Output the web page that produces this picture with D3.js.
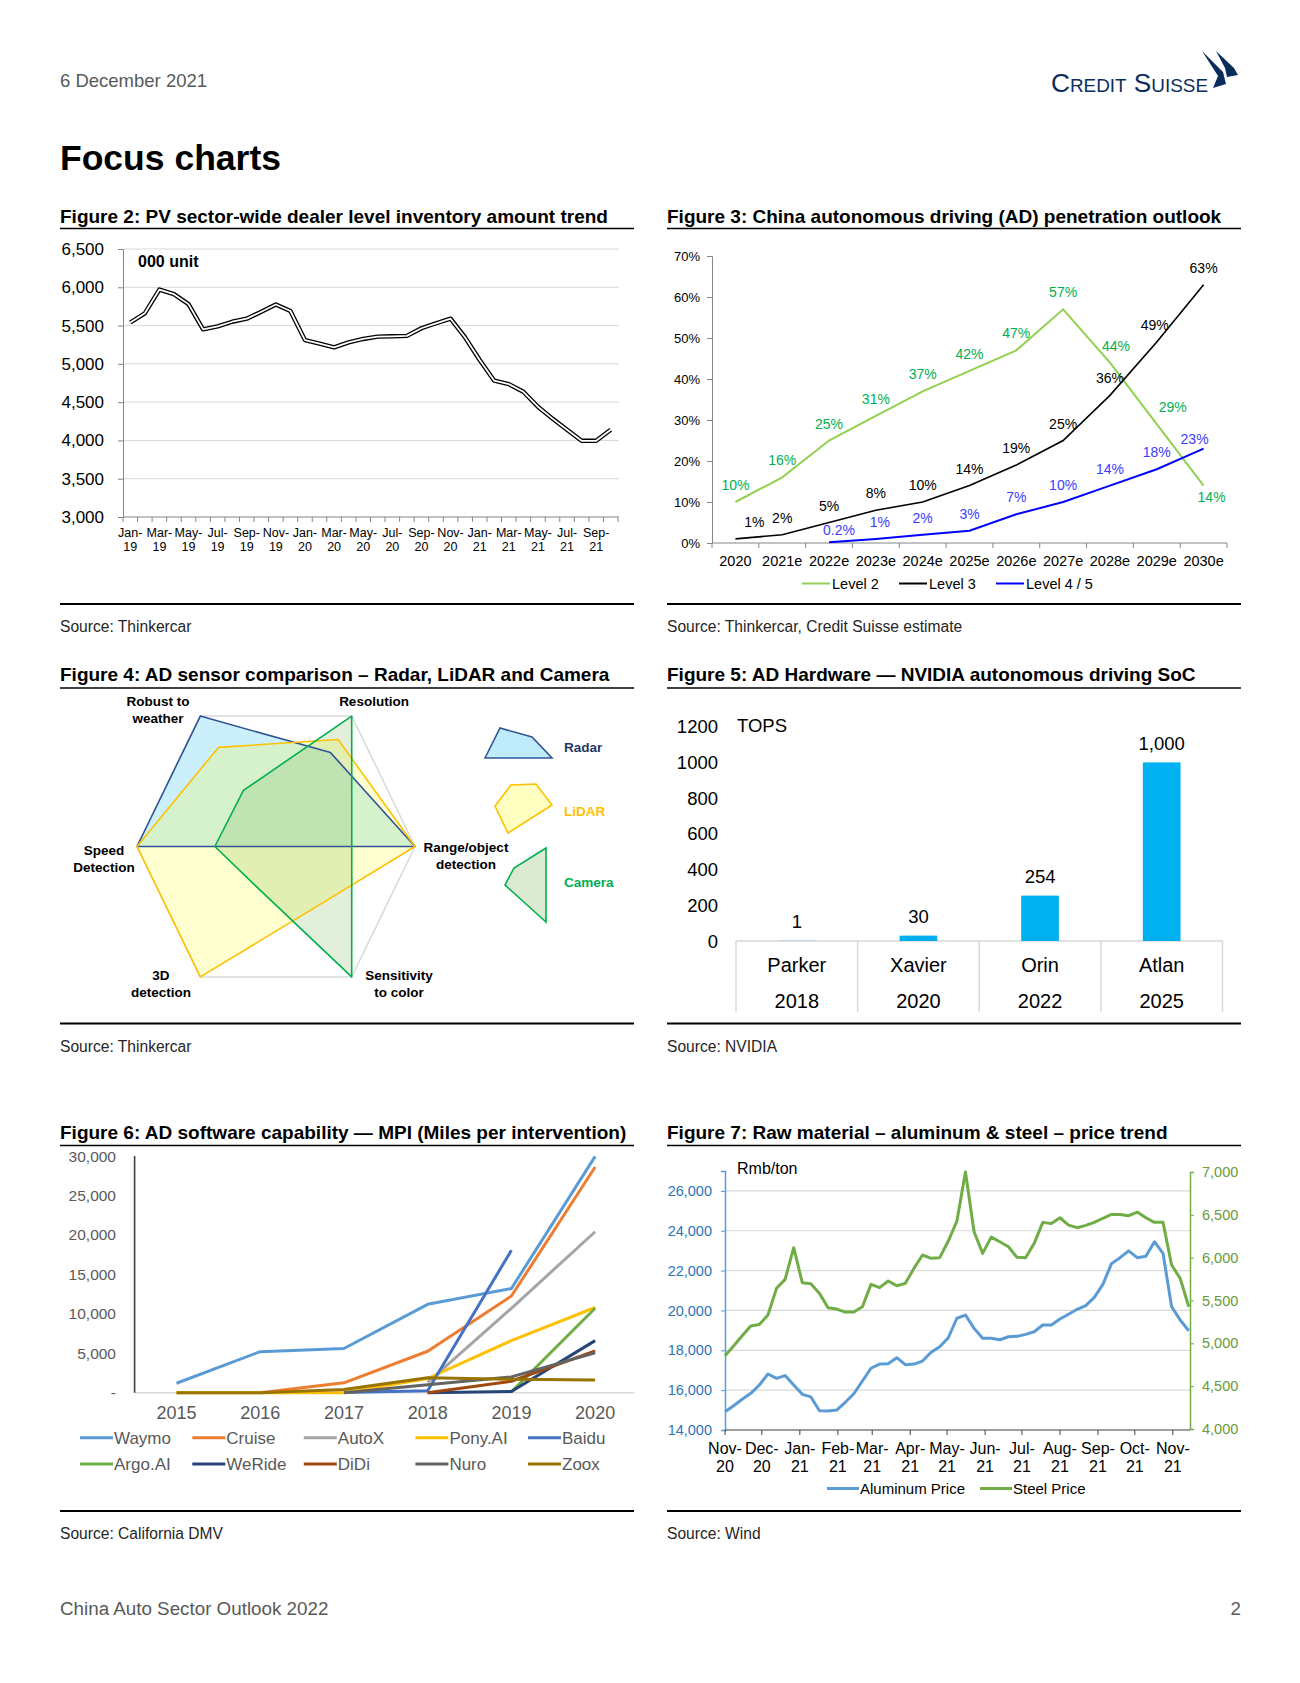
<!DOCTYPE html>
<html>
<head>
<meta charset="utf-8">
<script src="https://cdn.jsdelivr.net/npm/d3@7"></script>
<style>
  body { margin: 0; background: #fff; }
  text { font-family: "Liberation Sans", Arial, Helvetica, sans-serif; }
</style>
</head>
<body>
<svg id="page"></svg>
<script>
// ---------- data ----------
// Figure 2: dealer inventory ('000 units), Jan-19 .. Oct-21
var invMonths = ["Jan-19","Feb-19","Mar-19","Apr-19","May-19","Jun-19","Jul-19","Aug-19","Sep-19","Oct-19","Nov-19","Dec-19",
                 "Jan-20","Feb-20","Mar-20","Apr-20","May-20","Jun-20","Jul-20","Aug-20","Sep-20","Oct-20","Nov-20","Dec-20",
                 "Jan-21","Feb-21","Mar-21","Apr-21","May-21","Jun-21","Jul-21","Aug-21","Sep-21","Oct-21"];
var invValues = [5540,5660,5970,5910,5780,5450,5490,5550,5590,5680,5775,5690,
                 5310,5265,5215,5280,5325,5355,5360,5365,5465,5530,5590,5345,
                 5050,4780,4735,4635,4440,4285,4140,3995,3995,4140];

// Figure 3: AD penetration (%)
var adYears = ["2020","2021e","2022e","2023e","2024e","2025e","2026e","2027e","2028e","2029e","2030e"];
var level2 = [10,16,25,31,37,42,47,57,44,29,14];
var level3 = [1,2,5,8,10,14,19,25,36,49,63];
var level45 = [null,null,0.2,1,2,3,7,10,14,18,23];

// Figure 4: sensor scores (0-10) on six axes
var sensorAxes = ["Range/object detection","Resolution","Robust to weather","Speed Detection","3D detection","Sensitivity to color"];
var radarScores  = [10, 7.2, 10, 10, 0, 0];
var lidarScores  = [10, 8.2, 7.6, 10, 10, 4.8];
var cameraScores = [5.45, 10, 4.3, 4.4, 2.9, 10];

// Figure 5: NVIDIA SoC compute (TOPS)
var socNames = ["Parker","Xavier","Orin","Atlan"];
var socYears = ["2018","2020","2022","2025"];
var socTops = [1, 30, 254, 1000];

// Figure 6: miles per intervention
var mpiYears = ["2015","2016","2017","2018","2019","2020"];
var mpiNames = ["Waymo","Cruise","AutoX","Pony.AI","Baidu","Argo.AI","WeRide","DiDi","Nuro","Zoox"];
var mpiWaymo  = [1200, 5200, 5600, 11200, 13200, 29950];
var mpiCruise = [null, 0, 1250, 5250, 12250, 28600];
var mpiAutoX  = [null, null, null, 1300, 10700, 20400];
var mpiPony   = [0, 0, 0, 1800, 6600, 10800];
var mpiBaidu  = [null, null, 40, 250, 18050, null];
var mpiArgo   = [null, null, null, null, 100, 10700];
var mpiWeRide = [null, null, null, 0, 150, 6600];
var mpiDiDi   = [null, null, null, 0, 1450, 5300];
var mpiNuro   = [null, null, 0, 1000, 2000, 5050];
var mpiZoox   = [0, 0, 400, 1900, 1700, 1600];

// Figure 7: weekly prices (Rmb/ton), first week of Nov-20 onwards
var priceStart = new Date(2020, 10, 1);
var aluminumPrice = [14920,15220,15540,15840,16260,16810,16590,16730,16260,15790,
                     15660,14970,14950,15000,15390,15820,16460,17100,17310,17330,
                     17630,17280,17310,17460,17900,18180,18630,19610,19770,19100,
                     18600,18600,18530,18680,18700,18800,18930,19270,19270,19570,
                     19810,20060,20240,20660,21310,22350,22650,22990,22650,22720,
                     23450,22870,20190,19520,18980];
var steelPrice = [4855,4969,5089,5202,5220,5330,5642,5747,6116,5707,
                  5695,5583,5416,5400,5365,5365,5427,5688,5650,5727,
                  5672,5700,5875,6031,5992,6000,6194,6427,7000,6302,
                  6050,6240,6186,6128,6004,6000,6167,6412,6400,6466,
                  6380,6350,6377,6412,6460,6505,6505,6490,6532,6466,
                  6412,6412,5914,5758,5427];

// ---------- page ----------
var svg = d3.select("#page").attr("width", 1300).attr("height", 1683);

function label(g, x, y, s, size, opts) {
  opts = opts || {};
  return g.append("text")
    .attr("x", x).attr("y", y)
    .attr("text-anchor", opts.anchor || "start")
    .attr("fill", opts.color || "#000")
    .attr("font-weight", opts.weight || "normal")
    .style("font-size", size + "px")
    .text(s);
}

function rule(x0, x1, y, w) {
  svg.append("line").attr("x1", x0).attr("x2", x1).attr("y1", y).attr("y2", y)
    .attr("stroke", "#000").attr("stroke-width", w);
}

var colL = [60, 634], colR = [667, 1241];

// header
label(svg, 60, 87, "6 December 2021", 18.5, {color: "#595959"});
svg.append("text").attr("x", 1051).attr("y", 91.5).attr("fill", "#0b2d5e")
  .style("font-size", "25px").style("font-variant", "small-caps")
  .attr("textLength", 157).attr("lengthAdjust", "spacingAndGlyphs")
  .text("Credit Suisse");
svg.append("path").attr("fill", "#0b2d5e")
  .attr("d", "M1202,51 L1223,72 L1226,84 L1213,88 L1218,76 Z");
svg.append("path").attr("fill", "#0b2d5e")
  .attr("d", "M1216,51 L1234,68 L1238,75 L1227,77 L1225,68 Z");

label(svg, 60, 170, "Focus charts", 35.5, {weight: "bold"});

// figure frames
function frame(col, titleY, topRule, bottomRule, sourceY, title, source) {
  label(svg, col[0], titleY, title, 19, {weight: "bold"});
  rule(col[0], col[1], topRule, 1.6);
  rule(col[0], col[1], bottomRule, 2);
  label(svg, col[0], sourceY, source, 15.6, {color: "#262626"});
}
frame(colL, 223, 228.5, 604, 632, "Figure 2: PV sector-wide dealer level inventory amount trend", "Source: Thinkercar");
frame(colR, 223, 228.5, 604, 632, "Figure 3: China autonomous driving (AD) penetration outlook", "Source: Thinkercar, Credit Suisse estimate");
frame(colL, 681, 688, 1023.5, 1052, "Figure 4: AD sensor comparison \u2013 Radar, LiDAR and Camera", "Source: Thinkercar");
frame(colR, 681, 688, 1023.5, 1052, "Figure 5: AD Hardware \u2014 NVIDIA autonomous driving SoC", "Source: NVIDIA");
frame(colL, 1139, 1145.5, 1511, 1539, "Figure 6: AD software capability \u2014 MPI (Miles per intervention)", "Source: California DMV");
frame(colR, 1139, 1145.5, 1511, 1539, "Figure 7: Raw material \u2013 aluminum & steel \u2013 price trend", "Source: Wind");

label(svg, 60, 1615, "China Auto Sector Outlook 2022", 18.8, {color: "#595959"});
label(svg, 1241, 1615, "2", 18.8, {color: "#595959", anchor: "end"});

// ---------- Figure 2 ----------
(function () {
  var g = svg.append("g");
  var x = d3.scaleBand().domain(invMonths).range([123, 618]);
  var y = d3.scaleLinear().domain([3000, 6500]).range([517, 249]);
  var ticks = d3.range(3000, 6501, 500);

  g.selectAll(".grid").data(ticks.slice(1)).enter().append("line")
    .attr("x1", 123).attr("x2", 619)
    .attr("y1", d => y(d)).attr("y2", d => y(d))
    .attr("stroke", "#d9d9d9");

  var ya = g.append("g").attr("transform", "translate(123,0)")
    .call(d3.axisLeft(y).tickValues(ticks).tickSize(5).tickFormat(d3.format(",")));
  ya.select(".domain").attr("stroke", "#868686");
  ya.selectAll(".tick line").attr("stroke", "#868686");
  ya.selectAll("text").style("font-size", "17px").attr("fill", "#000")
    .attr("font-family", null).attr("x", -19);

  // category axis with ticks at month boundaries
  g.append("line").attr("x1", 123).attr("x2", 619).attr("y1", y(3000)).attr("y2", y(3000))
    .attr("stroke", "#868686");
  g.selectAll(".mt").data(d3.range(invMonths.length + 1)).enter().append("line")
    .attr("x1", i => x.range()[0] + i * x.step()).attr("x2", i => x.range()[0] + i * x.step())
    .attr("y1", y(3000)).attr("y2", y(3000) + 5).attr("stroke", "#868686");
  var lab = g.selectAll(".ml").data(invMonths.filter((m, i) => i % 2 === 0)).enter().append("text")
    .attr("text-anchor", "middle").style("font-size", "12.5px");
  lab.append("tspan").attr("x", d => x(d) + x.bandwidth() / 2).attr("y", 537).text(d => d.split("-")[0] + "-");
  lab.append("tspan").attr("x", d => x(d) + x.bandwidth() / 2).attr("y", 551).text(d => d.split("-")[1]);

  var line = d3.line().x((d, i) => x(invMonths[i]) + x.bandwidth() / 2).y(d => y(d));
  g.append("path").datum(invValues).attr("d", line).attr("fill", "none")
    .attr("stroke", "#000").attr("stroke-width", 4.4).attr("stroke-linejoin", "round");
  g.append("path").datum(invValues).attr("d", line).attr("fill", "none")
    .attr("stroke", "#fff").attr("stroke-width", 1.8).attr("stroke-linejoin", "round");

  label(g, 138, 267, "000 unit", 16, {weight: "bold"});
})();

// ---------- Figure 3 ----------
(function () {
  var g = svg.append("g");
  var x = d3.scaleBand().domain(adYears).range([712, 1227]);
  var y = d3.scaleLinear().domain([0, 70]).range([543, 256]);
  var cx = d => x(d) + x.bandwidth() / 2;

  var ya = g.append("g").attr("transform", "translate(712,0)")
    .call(d3.axisLeft(y).tickValues(d3.range(0, 71, 10)).tickSize(5).tickFormat(d => d + "%"));
  ya.select(".domain").attr("stroke", "#868686");
  ya.selectAll(".tick line").attr("stroke", "#868686");
  ya.selectAll("text").style("font-size", "13px").attr("fill", "#000").attr("font-family", null).attr("x", -12);

  g.append("line").attr("x1", 712).attr("x2", 1227).attr("y1", y(0)).attr("y2", y(0)).attr("stroke", "#868686");
  g.selectAll(".bt").data(d3.range(adYears.length + 1)).enter().append("line")
    .attr("x1", i => 712 + i * x.step()).attr("x2", i => 712 + i * x.step())
    .attr("y1", y(0)).attr("y2", y(0) + 5).attr("stroke", "#868686");
  g.selectAll(".xl").data(adYears).enter().append("text")
    .attr("x", cx).attr("y", 566).attr("text-anchor", "middle").style("font-size", "14.5px").text(d => d);

  var series = [
    {values: level2, stroke: "#92d050", text: "#00b050", w: 2,
     nudge: {8: [6, 0], 9: [16, 0], 10: [8, 28]}},
    {values: level3, stroke: "#000", text: "#000", w: 1.6,
     nudge: {0: [19, 0], 9: [-2, 0]}},
    {values: level45, stroke: "#0000ff", text: "#3c3cff", w: 2,
     nudge: {2: [10, 5], 3: [4, 0], 10: [-9, 7]}}
  ];
  var line = d3.line().defined(d => d != null).x((d, i) => cx(adYears[i])).y(d => y(d));
  series.forEach(function (s) {
    g.append("path").datum(s.values).attr("d", line).attr("fill", "none")
      .attr("stroke", s.stroke).attr("stroke-width", s.w);
  });
  series.forEach(function (s) {
    s.values.forEach(function (v, i) {
      if (v == null) return;
      var n = s.nudge[i] || [0, 0];
      label(g, cx(adYears[i]) + n[0], y(v) - 12 + n[1], (v < 1 ? v.toFixed(1) : v) + "%", 14,
        {anchor: "middle", color: s.text});
    });
  });

  var legend = [["Level 2", "#92d050", 802], ["Level 3", "#000", 899], ["Level 4  / 5", "#0000ff", 996]];
  legend.forEach(function (l) {
    g.append("line").attr("x1", l[2]).attr("x2", l[2] + 28).attr("y1", 583.5).attr("y2", 583.5)
      .attr("stroke", l[1]).attr("stroke-width", 2);
    label(g, l[2] + 30, 588.5, l[0], 14.5);
  });
})();

// ---------- Figure 4 ----------
(function () {
  var g = svg.append("g");
  var cx = 276, cy = 846.5, rx = 139, ry = 155.5;
  // axis directions as drawn in the source (slightly wider than a regular hexagon)
  var angles = [0, 57, 123, 180, 237, 303].map(a => a * Math.PI / 180);
  var r = d3.scaleLinear().domain([0, 10]).range([0, 1]);
  var pt = (v, i) => [cx + rx * r(v) * Math.cos(angles[i]), cy - ry * r(v) * Math.sin(angles[i])];
  var poly = vals => "M" + vals.map((v, i) => pt(v, i).join(",")).join("L") + "Z";

  g.append("path").attr("d", poly(sensorAxes.map(() => 10)))
    .attr("fill", "none").attr("stroke", "#d9d9d9").attr("stroke-width", 1.5);

  var sensors = [
    {name: "Radar", vals: radarScores, fill: "#00b0f0", op: 0.2, stroke: "#2f5597", text: "#1f3864"},
    {name: "LiDAR", vals: lidarScores, fill: "#ffff00", op: 0.19, stroke: "#ffc000", text: "#ffc000"},
    {name: "Camera", vals: cameraScores, fill: "#70ad47", op: 0.2, stroke: "#00b050", text: "#00b050"}
  ];
  sensors.forEach(function (s) {
    g.append("path").attr("d", poly(s.vals)).attr("fill", s.fill).attr("fill-opacity", s.op)
      .attr("stroke", "none");
  });
  sensors.forEach(function (s) {
    g.append("path").attr("d", poly(s.vals)).attr("fill", "none")
      .attr("stroke", s.stroke).attr("stroke-width", 1.6).attr("stroke-linejoin", "round");
  });

  var axisLabels = [
    [["Range/object", "detection"], 466, 852],
    [["Resolution"], 374, 706],
    [["Robust to", "weather"], 158, 706],
    [["Speed", "Detection"], 104, 855],
    [["3D", "detection"], 161, 980],
    [["Sensitivity", "to color"], 399, 980]
  ];
  axisLabels.forEach(function (a) {
    a[0].forEach(function (t, k) {
      label(g, a[1], a[2] + k * 16.5, t, 13.5, {anchor: "middle", weight: "bold"});
    });
  });

  // legend swatches
  var icons = [
    "M485,758 L500,728 L532,737 L552,758 Z",
    "M495,806 L511,785 L536,784 L552,805 L508,833 Z",
    "M546,848 L546,922 L505,885 L514,868 Z"
  ];
  var legY = [752, 816, 887];
  sensors.forEach(function (s, i) {
    g.append("path").attr("d", icons[i]).attr("fill", s.fill).attr("fill-opacity", s.op + 0.05)
      .attr("stroke", s.stroke).attr("stroke-width", 1.6);
    label(g, 564, legY[i], s.name, 13.5, {weight: "bold", color: s.text});
  });
})();

// ---------- Figure 5 ----------
(function () {
  var g = svg.append("g");
  var x = d3.scaleBand().domain(socNames).range([736, 1222.5]);
  var y = d3.scaleLinear().domain([0, 1200]).range([941, 726.7]);
  var bw = x.bandwidth() * 0.31;

  d3.range(0, 1201, 200).forEach(function (t) {
    label(g, 718, y(t) + 6.5, t, 18.5, {anchor: "end"});
  });
  label(g, 737, 731.5, "TOPS", 18.5);

  g.append("line").attr("x1", 736).attr("x2", 1222.5).attr("y1", y(0)).attr("y2", y(0))
    .attr("stroke", "#d9d9d9").attr("stroke-width", 1.5);
  g.selectAll(".sep").data(d3.range(socNames.length + 1)).enter().append("line")
    .attr("x1", i => 736 + i * x.step()).attr("x2", i => 736 + i * x.step())
    .attr("y1", y(0)).attr("y2", 1012).attr("stroke", "#d9d9d9").attr("stroke-width", 1.5);

  g.selectAll(".bar").data(socTops).enter().append("rect")
    .attr("x", (d, i) => x(socNames[i]) + (x.bandwidth() - bw) / 2)
    .attr("y", d => y(d)).attr("width", bw).attr("height", d => y(0) - y(d))
    .attr("fill", "#00b0f0");
  socTops.forEach(function (v, i) {
    var c = x(socNames[i]) + x.bandwidth() / 2;
    label(g, c, y(v) - 12.5, d3.format(",")(v), 18.5, {anchor: "middle"});
    label(g, c, 972, socNames[i], 20, {anchor: "middle"});
    label(g, c, 1008, socYears[i], 20, {anchor: "middle"});
  });
})();

// ---------- Figure 6 ----------
(function () {
  var g = svg.append("g");
  var x = d3.scaleBand().domain(mpiYears).range([134.6, 637]);
  var y = d3.scaleLinear().domain([0, 30000]).range([1392.7, 1156]);
  var cx = d => x(d) + x.bandwidth() / 2;
  var grey = "#595959";

  d3.range(0, 30001, 5000).forEach(function (t) {
    label(g, 116, y(t) + 5.5, t === 0 ? "-" : d3.format(",")(t), 15.5, {anchor: "end", color: grey});
  });
  g.append("line").attr("x1", 134.6).attr("x2", 634).attr("y1", y(0)).attr("y2", y(0))
    .attr("stroke", "#d9d9d9").attr("stroke-width", 1.5);
  g.append("line").attr("x1", 134.6).attr("x2", 134.6).attr("y1", y(30000)).attr("y2", y(0))
    .attr("stroke", "#404040").attr("stroke-width", 1.6);
  mpiYears.forEach(function (yr) {
    label(g, cx(yr), 1419, yr, 18, {anchor: "middle", color: grey});
  });

  var rows = [mpiWaymo, mpiCruise, mpiAutoX, mpiPony, mpiBaidu, mpiArgo, mpiWeRide, mpiDiDi, mpiNuro, mpiZoox];
  var colors = ["#5b9bd5","#ed7d31","#a5a5a5","#ffc000","#4472c4","#70ad47","#264478","#9e480e","#636363","#997300"];
  var line = d3.line().defined(d => d != null).x((d, i) => cx(mpiYears[i])).y(d => y(d));
  rows.forEach(function (vals, k) {
    g.append("path").datum(vals).attr("d", line).attr("fill", "none")
      .attr("stroke", colors[k]).attr("stroke-width", 3).attr("stroke-linejoin", "round");
  });

  var legX = [80, 192.3, 303.8, 415.4, 528];
  mpiNames.forEach(function (n, k) {
    var lx = legX[k % 5], ly = k < 5 ? 1437.7 : 1464;
    g.append("line").attr("x1", lx).attr("x2", lx + 33).attr("y1", ly).attr("y2", ly)
      .attr("stroke", colors[k]).attr("stroke-width", 3);
    label(g, lx + 34, ly + 6, n, 17, {color: grey});
  });
})();

// ---------- Figure 7 ----------
(function () {
  var g = svg.append("g");
  var dates = aluminumPrice.map((d, i) => d3.timeDay.offset(priceStart, 7 * i));
  var x = d3.scaleTime().domain([priceStart, new Date(2021, 10, 15)]).range([725, 1190]);
  var yL = d3.scaleLinear().domain([14000, 27000]).range([1430, 1171]);
  var yR = d3.scaleLinear().domain([4000, 7000]).range([1429, 1172]);
  var leftTicks = d3.range(14000, 26001, 2000);

  g.selectAll(".grid").data(leftTicks.slice(1)).enter().append("line")
    .attr("x1", 725).attr("x2", 1190).attr("y1", d => yL(d)).attr("y2", d => yL(d))
    .attr("stroke", "#d9d9d9").attr("stroke-width", 1.2);

  var la = g.append("g").attr("transform", "translate(725,0)")
    .call(d3.axisLeft(yL).tickValues(leftTicks).tickSize(4).tickFormat(d3.format(",")));
  la.select(".domain").attr("stroke", "#5b9bd5").attr("stroke-width", 1.5);
  la.selectAll(".tick line").attr("stroke", "#5b9bd5");
  la.selectAll("text").style("font-size", "14.5px").attr("fill", "#2e75b6").attr("font-family", null).attr("x", -13);

  var ra = g.append("g").attr("transform", "translate(1190,0)")
    .call(d3.axisRight(yR).tickValues(d3.range(4000, 7001, 500)).tickSize(4).tickFormat(d3.format(",")));
  ra.select(".domain").attr("stroke", "#70ad47").attr("stroke-width", 1.5);
  ra.selectAll(".tick line").attr("stroke", "#70ad47");
  ra.selectAll("text").style("font-size", "14.5px").attr("fill", "#6a9a3a").attr("font-family", null).attr("x", 12);

  var months = d3.timeMonth.range(new Date(2020, 10, 1), new Date(2021, 10, 2));
  g.append("line").attr("x1", 725).attr("x2", 1190).attr("y1", 1430).attr("y2", 1430)
    .attr("stroke", "#404040").attr("stroke-width", 1.2);
  g.selectAll(".mt").data(months).enter().append("line")
    .attr("x1", d => x(d)).attr("x2", d => x(d)).attr("y1", 1430).attr("y2", 1435)
    .attr("stroke", "#404040");
  var ml = g.selectAll(".ml").data(months).enter().append("text")
    .attr("text-anchor", "middle").style("font-size", "16px");
  ml.append("tspan").attr("x", d => x(d)).attr("y", 1454).text(d3.timeFormat("%b-"));
  ml.append("tspan").attr("x", d => x(d)).attr("y", 1472).text(d3.timeFormat("%y"));

  var lineL = d3.line().x((d, i) => x(dates[i])).y(d => yL(d));
  var lineR = d3.line().x((d, i) => x(dates[i])).y(d => yR(d));
  g.append("path").datum(aluminumPrice).attr("d", lineL).attr("fill", "none")
    .attr("stroke", "#5b9bd5").attr("stroke-width", 3).attr("stroke-linejoin", "round");
  g.append("path").datum(steelPrice).attr("d", lineR).attr("fill", "none")
    .attr("stroke", "#70ad47").attr("stroke-width", 3).attr("stroke-linejoin", "round");

  label(g, 737, 1174, "Rmb/ton", 16);
  [["Aluminum Price", "#5b9bd5", 827], ["Steel Price", "#70ad47", 980]].forEach(function (l) {
    g.append("line").attr("x1", l[2]).attr("x2", l[2] + 32).attr("y1", 1488.5).attr("y2", 1488.5)
      .attr("stroke", l[1]).attr("stroke-width", 3);
    label(g, l[2] + 33, 1494, l[0], 15);
  });
})();
</script>
</body>
</html>
